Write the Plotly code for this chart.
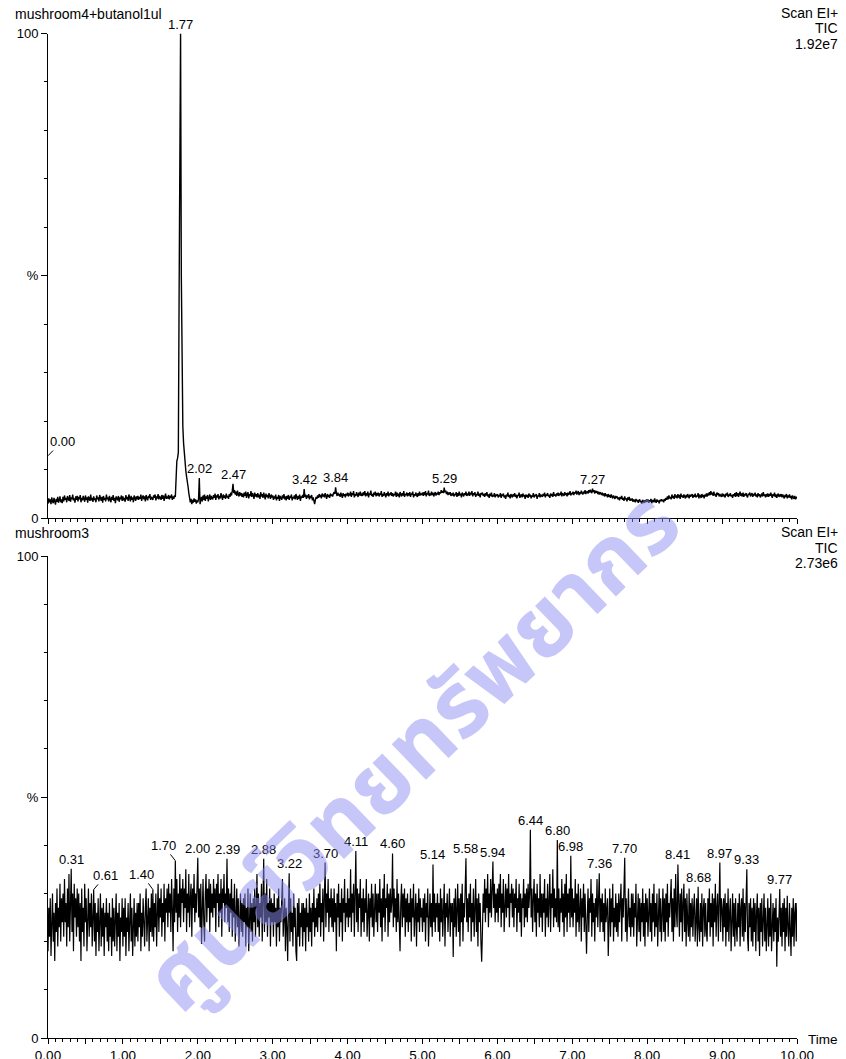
import plotly.graph_objects as go

# ---------------- data ----------------
SCAN_START = 0.0
SCAN_STEP = 0.01

top_title = "mushroom4+butanol1ul"
bottom_title = "mushroom3"
scan_label = "Scan EI+"
tic_label = "TIC"
top_scale = "1.92e7"
bottom_scale = "2.73e6"

top_values = [
    3.0,4.1,3.3,3.9,2.9,4.3,3.5,3.1,4.2,3.6,2.8,4.0,3.4,4.4,3.2,3.8,4.5,3.3,3.9,3.1,
    4.4,3.5,4.7,3.8,4.2,3.3,4.6,4.0,3.6,4.8,3.4,4.3,3.9,4.9,3.7,4.1,3.2,4.5,3.8,4.6,
    3.5,4.4,3.9,4.8,3.3,4.2,3.7,4.6,4.0,3.4,4.7,3.8,4.3,3.2,4.5,4.1,3.6,4.9,3.7,4.2,
    3.4,4.5,3.8,4.1,3.3,4.7,3.9,4.3,3.5,4.8,4.0,3.6,4.4,3.2,4.6,3.8,4.2,3.5,4.9,3.9,
    4.3,3.5,4.6,3.9,3.3,4.4,3.8,4.8,3.6,4.2,3.1,4.5,4.0,3.7,4.6,3.4,4.3,3.9,4.7,3.6,
    4.5,3.7,4.2,3.4,4.8,3.9,4.4,3.6,4.9,4.1,3.5,4.6,3.8,4.3,3.3,4.7,4.0,3.6,4.5,3.9,
    4.6,3.8,4.4,4.0,4.9,3.6,4.3,4.7,3.9,4.5,3.5,4.8,4.1,3.7,4.6,4.2,5.0,3.8,4.4,4.1,
    3.8,4.7,4.2,4.9,3.7,4.5,4.1,5.0,3.9,4.6,4.3,3.8,4.8,4.0,4.7,3.6,4.4,5.1,4.0,4.5,
    4.1,4.8,3.9,4.6,4.2,4.9,3.8,4.5,4.0,4.7,4.4,11.2,11.8,12.4,13.6,45.0,92.0,100.0,50.0,22.8,
    19.0,15.5,13.0,11.2,9.8,8.6,7.8,6.5,5.2,4.2,3.3,4.0,2.9,3.8,3.2,4.1,3.4,3.9,3.0,3.7,
    3.3,4.0,8.3,2.9,3.9,4.4,3.5,4.7,3.8,4.9,3.6,4.5,4.0,4.8,3.5,4.3,4.9,3.8,4.6,4.1,
    3.9,4.8,4.2,5.1,3.8,4.7,4.3,5.0,3.9,4.6,4.1,5.2,4.4,3.8,4.9,4.2,4.7,4.0,5.1,4.3,
    4.6,4.0,5.0,4.4,5.3,4.7,5.6,7.1,5.2,5.8,4.9,5.5,4.6,5.7,5.0,4.5,5.4,4.7,5.2,4.4,
    5.1,4.3,5.3,4.6,5.5,4.2,4.9,5.4,4.1,5.0,4.6,5.6,4.4,5.2,4.7,4.0,5.3,4.5,5.0,4.3,
    5.2,4.3,4.9,4.0,5.4,4.5,5.0,4.2,5.3,4.6,3.9,5.1,4.4,4.8,4.1,5.2,4.7,4.0,4.9,4.3,
    4.7,3.8,4.5,4.1,4.9,3.7,4.4,4.0,4.8,3.6,4.6,4.2,3.8,4.7,4.1,5.0,3.9,4.5,3.7,4.6,
    4.0,4.8,3.8,4.5,4.2,4.9,3.7,4.4,4.1,4.7,3.9,5.0,4.3,3.8,4.6,4.0,4.9,3.6,4.5,4.2,
    4.8,4.2,6.0,4.4,4.9,4.0,4.7,4.3,5.0,3.9,4.6,4.2,4.8,3.7,4.3,3.2,2.9,3.8,4.4,4.0,
    4.7,4.2,5.0,4.4,4.8,4.1,5.1,4.5,4.9,4.3,5.2,4.6,4.0,5.0,4.4,4.8,4.2,5.1,4.6,4.9,
    4.5,5.1,5.4,5.0,6.4,5.2,4.6,5.3,4.7,5.0,4.4,5.3,4.8,4.2,5.2,4.6,5.0,4.3,5.1,4.7,
    5.3,4.5,5.1,4.7,5.5,4.4,5.2,4.8,5.6,4.3,5.0,4.6,5.4,4.9,4.4,5.3,4.7,5.5,4.6,5.1,
    4.6,5.4,4.8,5.6,4.5,5.2,4.7,5.5,4.3,5.1,4.9,5.7,4.6,5.0,4.4,5.3,4.8,5.5,4.5,5.2,
    4.7,5.3,4.5,5.1,4.8,5.6,4.4,5.0,4.6,5.4,4.9,4.3,5.2,4.7,5.5,4.5,5.1,4.8,5.4,4.6,
    5.2,4.5,5.0,4.8,5.5,4.4,5.3,4.6,5.1,4.3,5.4,4.9,4.5,5.2,4.7,5.6,4.4,5.0,4.8,5.3,
    4.5,5.2,4.7,5.4,4.4,5.1,4.9,5.5,4.3,5.0,4.6,5.3,4.8,4.4,5.2,4.6,5.5,4.7,5.1,4.8,
    5.3,4.6,5.4,4.8,5.6,4.5,5.2,4.9,5.7,4.6,5.1,4.7,5.5,4.8,5.3,4.5,5.0,5.4,4.7,5.2,
    4.9,5.5,4.8,5.4,5.1,5.8,5.3,5.6,5.2,6.3,5.4,5.7,5.0,5.5,4.8,5.3,4.9,5.4,4.6,5.1,
    4.7,5.3,4.5,5.0,4.8,5.4,4.4,5.2,4.6,5.5,4.7,5.1,4.3,5.3,4.9,4.5,5.2,4.8,5.5,4.6,
    5.1,4.7,5.5,4.6,5.3,4.9,5.6,4.5,5.2,4.8,5.4,4.4,5.0,4.7,5.5,4.6,5.1,4.3,5.2,4.9,
    5.3,4.6,5.0,4.4,5.2,4.7,5.4,4.5,4.9,4.2,5.1,4.6,5.3,4.4,4.8,4.5,5.2,4.3,4.9,4.6,
    5.0,4.3,4.8,4.5,5.2,4.2,4.9,4.6,5.1,4.3,4.7,4.0,4.9,4.5,5.3,4.4,4.8,4.1,5.0,4.6,
    4.3,5.0,4.5,5.2,4.4,4.9,4.1,4.8,4.6,5.3,4.2,4.7,4.9,4.3,5.1,4.5,4.8,4.0,4.9,4.4,
    4.8,4.2,5.1,4.5,4.9,4.1,4.7,4.4,5.2,4.3,4.8,4.6,5.0,4.0,4.7,4.5,5.2,4.3,4.9,4.6,
    4.4,5.0,4.6,5.3,4.3,4.9,4.7,5.2,4.5,4.8,4.2,5.1,4.6,5.0,4.4,5.4,4.7,4.9,4.5,5.1,
    4.7,5.3,4.6,5.1,4.8,5.5,4.5,5.2,4.9,4.6,5.4,4.8,5.2,4.5,5.3,4.9,5.0,5.6,4.7,5.2,
    5.0,5.5,4.8,5.4,5.1,5.7,4.9,5.3,5.6,4.8,5.4,5.0,5.7,5.2,4.9,5.5,5.1,5.8,5.0,5.4,
    5.6,5.1,5.8,5.3,5.9,5.5,5.2,6.1,5.4,5.8,5.1,5.7,5.3,5.6,5.0,5.5,4.9,5.4,5.1,4.8,
    5.3,4.7,5.1,4.5,5.2,4.6,4.9,4.3,5.0,4.4,4.8,4.2,4.9,4.5,4.1,4.7,4.3,4.0,4.6,4.2,
    4.5,3.9,4.3,3.7,4.4,4.0,4.6,3.8,4.2,3.6,4.5,3.9,4.1,3.5,4.3,3.8,4.4,3.6,4.0,3.7,
    4.1,3.4,3.9,3.6,3.3,4.0,3.5,3.8,3.2,3.7,3.9,3.3,3.6,3.0,3.8,3.4,3.2,3.7,3.3,3.9,
    3.4,3.9,3.2,3.7,3.5,4.0,3.1,3.6,3.8,3.3,4.1,3.5,3.2,3.9,3.4,3.7,3.1,3.8,3.5,3.9,
    3.5,3.8,3.3,4.0,3.6,4.2,3.8,4.5,3.9,4.7,4.1,4.4,3.9,4.9,4.2,4.6,4.0,5.0,4.3,4.7,
    4.1,5.0,4.3,4.8,4.0,5.1,4.4,4.7,4.2,4.9,4.5,4.1,4.8,4.3,5.0,4.4,4.1,4.9,4.5,4.7,
    5.0,4.2,4.8,4.4,5.1,4.3,4.7,4.5,5.2,4.1,4.9,4.6,4.2,5.0,4.4,4.8,4.1,4.9,4.5,5.1,
    4.5,5.1,4.7,5.4,4.8,5.6,4.9,5.3,4.6,5.5,4.7,5.0,4.4,5.3,4.8,5.2,4.5,5.0,4.7,4.4,
    5.1,4.5,5.0,4.6,4.3,5.1,4.7,5.3,4.4,4.9,4.6,5.2,4.5,4.8,4.2,5.0,4.6,5.2,4.4,5.4,
    4.6,5.2,4.4,5.0,5.5,4.6,5.1,4.5,5.3,4.4,5.0,4.7,5.2,4.6,4.3,5.1,4.8,5.3,4.5,4.9,
    5.2,4.4,5.0,4.7,5.3,4.5,4.9,4.3,5.2,4.6,5.0,4.3,4.9,5.1,4.5,5.4,4.6,4.9,4.3,5.0,
    4.5,5.1,4.4,5.0,4.6,5.3,4.7,4.2,5.0,4.6,5.3,4.4,4.9,4.2,4.8,5.1,4.4,4.9,4.5,5.0,
    4.3,4.9,4.5,4.1,4.8,4.4,5.0,4.1,4.7,4.3,4.9,4.2,4.6,3.9,4.7,4.3,4.0,4.6,3.9,4.4,
    4.1,
]

bottom_values = [
    18,27,21,29,17,25,30,20,26,16,28,22,31,19,27,23,32,20,29,24,
    30,21,33,24,28,19,31,23,34,20,27,35.1,22,30,18,32,25,29,21,31,
    23,30,20,28,16,31,22,27,19,32,24,29,18,26,31,21,28,23,30,19,
    27,30.8,20,28,17,26,22,29,18,25,30,19,27,21,28,17,26,23,29,20,
    26,18,28,21,25,17,29,20,27,19,24,30,18,26,21,28,16,25,22,29,
    19,27,21,29,17,25,22,28,18,26,30,20,27,17,24,29,19,26,21,28,
    20,28,23,30,18,26,21,29,24,19,27,31,20,25,29,18,27,22,30,21,
    30.8,20,28,23,30,19,27,32,22,29,25,31,21,28,24,32,20,29,26,31,
    23,32,26,30,22,33,27,18,31,24,36.8,26,33,22,30,25,34,23,31,28,
    33,24,31,27,35,22,30,26,34,23,29,32,21,31,27,34,24,30,26,33,
    37.4,25,31,23,32,19.5,28,33,24,20,30,34,24,31,27,33,22,32,26,30,
    25,33,27,31,22,32,28,34,23,30,26,33,21,31,28,34,24,30,27,37.2,
    24,31,22,30,26,33,21,29,25,32,20,28,31,23,29,19,27,30,22,28,
    21,29,24,30,19,27,23,31,18,26,30,22,28,20,29,24,31,21,27,34,
    23,30,21,28,25,32,20,29,37.2,22,30,24,33,21,28,25,31,19,29,24,
    28,21,30,24,27,19,29,23,31,20,27,24,30,33,21,26,29,18,27,23,
    16,27,34.2,20,29,22,26,19,30,23,27,18,16,28,21,29,19,26,23,28,
    19,28,22,27,18,29,23,26,20,30,22,27,19,28,24,31,21,27,23,29,
    22,30,25,32,21,28,24,31,20,29,36.4,23,30,26,33,22,29,25,31,23,
    29,22,31,24,28,18,30,25,32,21,28,24,31,20,29,26,33,22,28,25,
    31,23,29,25,35,22,30,26,32,21,29,38.8,24,31,22,30,27,33,21,29,
    24,31,22,29,26,33,21,28,30,20,29,25,32,23,30,21,28,32,24,30,
    22,30,26,33,23,29,20,31,25,34,22,29,27,32,21,30,24,31,26,28,
    38.3,23,31,25,29,22,33,24,30,21,18,28,32,23,30,25,31,21,29,24,
    30,22,28,24,31,20,29,25,32,21,27,30,19,28,24,31,22,29,25,27,
    22,29,24,30,20,28,25,31,19,27,30,23,28,21,36.0,24,30,22,28,25,
    30,22,28,20,31,24,29,21,27,32,19,28,25,30,22,26,31,21,28,24,
    28,16.8,29,23,31,21,27,32,22,29,19,30,24,32,20,28,25,30,37.3,24,
    29,22,30,25,32,20,28,24,31,21,27,33,22,29,19,30,24,28,20,15.8,
    22,30,26,33,24,31,27,34,23,30,26,33,25,31,36.6,27,32,24,30,26,
    31,24,32,27,34,23,30,26,33,22,29,32,25,31,27,34,23,30,28,32,
    25,31,23,30,27,33,22,29,26,32,24,30,21,29,27,33,23,30,25,31,
    24,32,27,30,43.2,25,31,22,29,33,24,30,21,32,26,29,23,34,25,30,
    22,30,26,33,21,29,25,32,23,28,34,22,30,27,35,23,31,25,29,24,
    41.1,23,31,22,29,26,33,24,30,21,32,25,34,22,30,26,31,23,37.8,25,
    31,23,29,26,33,21,30,24,32,22,28,31,20,29,25,32,22,30,24,17.5,
    25,31,22,29,26,33,21,30,24,28,20,29,25,33,23,30,34.2,22,29,24,
    30,22,28,20,31,24,27,29,17,26,31,21,29,24,32,20,27,23,30,22,
    28,21,30,24,27,32,20,29,25,31,37.4,22,29,20,28,31,23,27,21,30,
    23,30,21,28,25,32,19,27,30,22,29,20,28,24,31,21,28,19,30,24,
    29,21,27,31,22,28,20,30,24,32,21,28,23,30,19,27,31,22,29,20,
    27,31,22,29,20,30,24,32,21,28,25,30,33,22,29,20,31,23,34,26,
    23,36.0,25,21,30,24,31,20,28,32,22,29,19,30,24,21,31,20,28,23,
    29,21,27,30,20,26,29,19,31.4,23,20,28,22,30,19,27,29,21,28,22,
    20,29,24,31,21,28,23,30,19,29,24,32,21,27,30,20,26,36.4,22,29,
    27,20,29,23,30,19,28,22,31,20,26,29,18,25,30,21,28,19,29,23,
    20,28,23,30,19,27,29,21,31,20,28,22,30,35.0,21,18,28,23,29,20,
    27,19,29,22,28,18,26,30,20,27,17,28,22,29,19,26,30,20,27,18,
    26,29,19,27,21,30,18,26,28,20,27,22,29,14.8,25,20,28,30.9,21,27,
    19,28,22,29,18,27,21,29.5,23,19,28,22,17,27,21,29,19,26,28,20,
    28,
]

top_peak_times = [1.77, 2.02, 2.47, 3.42, 3.84, 5.29, 7.27]
bottom_peak_times = [0.31, 0.61, 1.40, 1.70, 2.00, 2.39, 2.88, 3.22, 3.70, 4.11,
                     4.60, 5.14, 5.58, 5.94, 6.44, 6.80, 6.98, 7.36, 7.70, 8.41,
                     8.68, 8.97, 9.33, 9.77]
# labels drawn beside their peak with a short leader: (dx px, dy px)
bottom_leaders = {0.61: (12, -14), 1.40: (-11, -15), 1.70: (-12, -15)}
top_start_label = (0.0, 12.9)  # "0.00" label at the start of the top trace

x_tick_major = [i * 0.5 for i in range(21)]
x_tick_text = [f"{v:.2f}" if abs(v - round(v)) < 1e-9 else "" for v in x_tick_major]
y_tick_major = [0, 50, 100]
y_tick_text = ["0", "%", "100"]

watermark_text = "ศูนย์วิทยทรัพยากร"

# ---------------- figure ----------------
FONT = "Liberation Sans, Arial, Helvetica, sans-serif"
REF_H = 1059           # reference picture height
W, H = 846, 1075       # page is photographed slightly taller and scaled to 1059
SY = H / REF_H
PLOT_TOP, PLOT_BOT = 33, 1036   # reference pixel rows of the plotting area
ML, MR = 48, 49
MT = PLOT_TOP * SY
MB = (REF_H - PLOT_BOT) * SY
PLOT_W = W - ML - MR


def py2paper(py):
    return (PLOT_BOT - py) / (PLOT_BOT - PLOT_TOP)


def px2paper(px):
    return (px - ML) / PLOT_W


def times_for(values):
    return [round(SCAN_START + i * SCAN_STEP, 2) for i in range(len(values))]


def value_at(values, t):
    return values[int(round((t - SCAN_START) / SCAN_STEP))]


fig = go.Figure()
fig.add_trace(go.Scatter(x=times_for(top_values), y=top_values, mode="lines",
                         line=dict(color="black", width=1.4), xaxis="x", yaxis="y",
                         showlegend=False, hoverinfo="skip"))
fig.add_trace(go.Scatter(x=times_for(bottom_values), y=bottom_values, mode="lines",
                         line=dict(color="black", width=1.2), xaxis="x2", yaxis="y2",
                         showlegend=False, hoverinfo="skip"))

xaxis_common = dict(range=[0, 10], showline=True, linecolor="black", linewidth=1,
                    ticks="outside", ticklen=5, tickwidth=1, tickcolor="black",
                    tickmode="array", tickvals=x_tick_major, ticktext=x_tick_text,
                    minor=dict(tickmode="linear", tick0=0, dtick=0.1, ticks="outside",
                               ticklen=3, tickwidth=1, tickcolor="black", showgrid=False),
                    showgrid=False, zeroline=False, mirror=False,
                    tickfont=dict(family=FONT, size=13.5, color="black"))
yaxis_common = dict(range=[0, 100], showline=True, linecolor="black", linewidth=1,
                    ticks="outside", ticklen=6, tickwidth=1, tickcolor="black",
                    tickmode="array", tickvals=y_tick_major, ticktext=y_tick_text,
                    minor=dict(tickmode="linear", tick0=0, dtick=10, ticks="outside",
                               ticklen=3, tickwidth=1, tickcolor="black", showgrid=False),
                    showgrid=False, zeroline=False,
                    tickfont=dict(family=FONT, size=13, color="black"))

top_dom = [py2paper(517.3), py2paper(33.5)]
bot_dom = [0.0, py2paper(555)]

fig.update_layout(
    width=W, height=H,
    margin=dict(l=ML, r=MR, t=MT, b=MB, pad=0),
    paper_bgcolor="white", plot_bgcolor="white",
    xaxis=dict(xaxis_common, anchor="y", showticklabels=False),
    yaxis=dict(yaxis_common, domain=top_dom, anchor="x"),
    xaxis2=dict(xaxis_common, anchor="y2", showticklabels=True),
    yaxis2=dict(yaxis_common, domain=bot_dom, anchor="x2"),
    font=dict(family=FONT, color="black"),
)

ann = []
lab_font = dict(family=FONT, size=13, color="black")

for t in top_peak_times:
    ann.append(dict(x=t, y=value_at(top_values, t), xref="x", yref="y",
                    text=f"{t:.2f}", showarrow=False, yanchor="bottom",
                    xanchor="center", font=lab_font))
ann.append(dict(x=top_start_label[0], y=top_start_label[1], xref="x", yref="y",
                text=f"{top_start_label[0]:.2f}", showarrow=True, arrowhead=0,
                arrowwidth=1, arrowcolor="black", ax=14, ay=-14 * SY, standoff=0,
                font=lab_font))

for t in bottom_peak_times:
    v = value_at(bottom_values, t)
    if t in bottom_leaders:
        dx, dy = bottom_leaders[t]
        ann.append(dict(x=t, y=v, xref="x2", yref="y2", text=f"{t:.2f}",
                        showarrow=True, arrowhead=0, arrowwidth=1, arrowcolor="black",
                        ax=dx, ay=dy * SY, standoff=0, font=lab_font))
    else:
        ann.append(dict(x=t, y=v, xref="x2", yref="y2", text=f"{t:.2f}",
                        showarrow=False, yanchor="bottom", xanchor="center",
                        font=lab_font))

head_font = dict(family=FONT, size=14, color="black")
for (txt, px, py, xa) in [
    (top_title, 13, 14, "left"),
    (scan_label, 840, 13, "right"),
    (tic_label, 840, 28, "right"),
    (top_scale, 840, 44, "right"),
    (bottom_title, 13, 532, "left"),
    (scan_label, 840, 531, "right"),
    (tic_label, 840, 547, "right"),
    (bottom_scale, 840, 562, "right"),
]:
    ann.append(dict(x=px2paper(px), y=py2paper(py), xref="paper", yref="paper",
                    text=txt, showarrow=False, xanchor=xa, yanchor="middle",
                    font=head_font))

ann.append(dict(x=px2paper(806), y=py2paper(1037), xref="paper", yref="paper",
                text="Time", showarrow=False, xanchor="left", yanchor="middle",
                font=dict(family=FONT, size=13.5, color="black")))

# watermark
ann.append(dict(x=px2paper(415), y=py2paper(752), xref="paper", yref="paper",
                text=watermark_text, showarrow=False, textangle=-44,
                xanchor="center", yanchor="middle", opacity=0.5,
                font=dict(family="Noto Sans Thai, Loma, Garuda, Tlwg Typo, sans-serif",
                          size=90, color="#8e8ef4", weight="bold")))

fig.update_layout(annotations=ann)
fig.write_html(
    "out.html",
    config={"displayModeBar": False, "staticPlot": True},
    post_script=(
        "document.documentElement.style.cssText='margin:0;padding:0;overflow:hidden;';"
        "document.body.style.cssText='margin:0;padding:0;overflow:hidden;';"
    ),
)
